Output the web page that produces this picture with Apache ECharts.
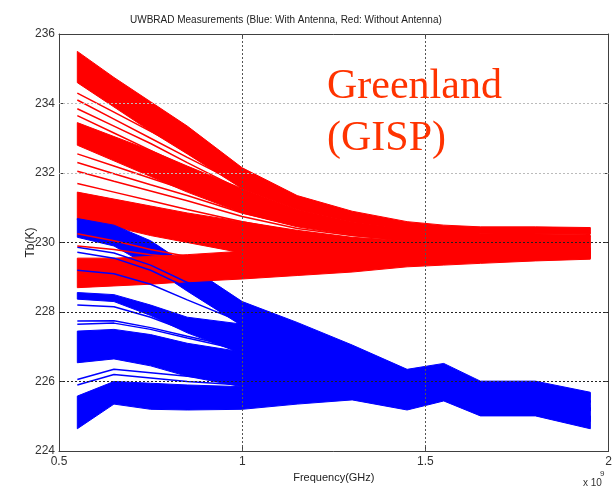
<!DOCTYPE html>
<html>
<head>
<meta charset="utf-8">
<script src="https://cdn.jsdelivr.net/npm/echarts@6/dist/echarts.min.js"></script>
<style>
  html, body { margin: 0; padding: 0; background: #fff; }
  #chart { width: 615px; height: 489px; }
</style>
</head>
<body>
<div id="chart"></div>
<script>
// frequencies (x1e9 Hz)
const freq = [0.55, 0.65, 0.75, 0.85, 1.0, 1.15, 1.3, 1.45, 1.55, 1.65, 1.8, 1.95];
const xTicks = [0.5, 1, 1.5, 2];
const yTicks = [224, 226, 228, 230, 232, 234, 236];

// red (without antenna) dense bands: upper / lower edges
const redBand1Up = [235.5, 234.75, 234.05, 233.35, 232.15, 231.35, 230.9, 230.6, 230.5, 230.45, 230.45, 230.43];
const redBand1Lo = [234.6, 233.9, 233.2, 232.55, 231.55, 230.95, 230.6, 230.38, 230.3, 230.27, 230.25, 230.25];
const redBand2Up = [233.45, 233.05, 232.65, 232.2, 231.55, 230.95, 230.6, 230.38, 230.3, 230.25, 230.22, 230.2];
const redBand2Lo = [232.8, 232.35, 231.9, 231.45, 230.85, 230.45, 230.2, 230.05, 230.0, 229.98, 229.97, 229.96];
const redBand3Up = [231.45, 231.25, 231.05, 230.85, 230.6, 230.35, 230.15, 230.05, 230.0, 229.98, 229.97, 229.96];
const redBand3Lo = [230.65, 230.45, 230.2, 230.0, 229.7, 229.6, 229.55, 229.52, 229.52, 229.52, 229.53, 229.55];
const redBand4Up = [229.55, 229.55, 229.6, 229.65, 229.75, 229.8, 229.82, 229.84, 229.85, 229.85, 229.85, 229.85];
const redBand4Lo = [228.7, 228.75, 228.8, 228.87, 228.95, 229.05, 229.15, 229.3, 229.35, 229.4, 229.47, 229.52];

// red single traces
const redA = [234.3, 233.75, 233.2, 232.65, 231.8, 231.1, 230.7, 230.45, 230.35, 230.3, 230.28, 230.27];
const redB = [234.1, 233.55, 233.0, 232.45, 231.65, 231.0, 230.62, 230.4, 230.3, 230.27, 230.25, 230.24];
const redC = [233.85, 233.35, 232.85, 232.3, 231.5, 230.9, 230.55, 230.35, 230.27, 230.24, 230.22, 230.2];
const redD = [233.65, 233.15, 232.65, 232.15, 231.4, 230.82, 230.5, 230.32, 230.25, 230.22, 230.2, 230.18];
const redE = [232.55, 232.2, 231.85, 231.5, 230.95, 230.55, 230.3, 230.15, 230.1, 230.07, 230.05, 230.04];
const redF = [232.3, 231.98, 231.66, 231.35, 230.85, 230.48, 230.25, 230.1, 230.05, 230.02, 230.0, 229.99];
const redG = [232.05, 231.76, 231.48, 231.2, 230.75, 230.4, 230.2, 230.06, 230.01, 229.98, 229.96, 229.95];
const redH = [231.7, 231.45, 231.2, 230.95, 230.6, 230.3, 230.12, 230.0, 229.96, 229.93, 229.91, 229.9];
const redI = [230.25, 230.05, 229.8, 229.6, 229.6, 229.62, 229.65, 229.68, 229.7, 229.7, 229.72, 229.72];
const redJ = [229.9, 229.8, 229.65, 229.55, 229.55, 229.57, 229.6, 229.63, 229.65, 229.66, 229.68, 229.7];

// blue (with antenna) dense bands
const blueBand1Up = [230.69, 230.5, 230.05, 229.35, 228.3, 227.7, 227.05, 226.35, 226.52, 226.01, 226.01, 225.69];
const blueBand1Lo = [230.15, 229.9, 229.3, 228.6, 227.6, 227.05, 226.55, 225.95, 226.15, 225.7, 225.7, 225.4];
const blueBand2Up = [228.56, 228.5, 228.2, 227.85, 227.65, 227.1, 226.6, 226.05, 226.2, 225.75, 225.75, 225.45];
const blueBand2Lo = [228.37, 228.3, 227.9, 227.4, 226.8, 226.45, 226.15, 225.7, 225.9, 225.45, 225.45, 225.15];
const blueBand3Up = [227.45, 227.5, 227.35, 227.1, 226.85, 226.6, 226.3, 225.8, 226.0, 225.55, 225.55, 225.25];
const blueBand3Lo = [226.54, 226.65, 226.45, 226.15, 225.85, 225.75, 225.7, 225.4, 225.6, 225.2, 225.2, 224.85];
const blueBand4Up = [225.58, 226.0, 225.95, 225.9, 225.85, 225.85, 225.85, 225.55, 225.75, 225.3, 225.3, 225.0];
const blueBand4Lo = [224.64, 225.35, 225.2, 225.18, 225.2, 225.35, 225.47, 225.18, 225.44, 225.01, 225.01, 224.64];

// blue single traces
const blueA = [229.86, 229.7, 229.35, 228.85, 228.1, 227.55, 226.95, 226.3, 226.45, 225.95, 225.95, 225.65];
const blueB = [229.72, 229.55, 229.2, 228.7, 227.95, 227.45, 226.85, 226.25, 226.4, 225.9, 225.9, 225.6];
const blueC = [229.2, 229.1, 228.8, 228.35, 227.7, 227.2, 226.7, 226.15, 226.3, 225.85, 225.85, 225.55];
const blueD = [228.2, 228.15, 227.85, 227.45, 226.95, 226.6, 226.3, 225.8, 225.95, 225.5, 225.5, 225.2];
const blueE = [227.74, 227.75, 227.55, 227.3, 226.95, 226.65, 226.4, 225.9, 226.05, 225.6, 225.6, 225.3];
const blueF = [227.65, 227.68, 227.5, 227.25, 226.9, 226.6, 226.35, 225.85, 226.0, 225.55, 225.55, 225.25];
const blueG = [226.06, 226.35, 226.25, 226.15, 226.0, 225.95, 225.9, 225.55, 225.75, 225.3, 225.3, 225.0];
const blueH = [225.9, 226.2, 226.1, 226.0, 225.9, 225.85, 225.85, 225.5, 225.7, 225.25, 225.25, 224.95];

const RED = '#ff0000';
const BLUE = '#0000ff';

// filled band between two traces, drawn through the axes with api.coord
function band(upper, lower, color) {
  return {
    type: 'custom', silent: true, clip: true,
    encode: { x: 0, y: 1 },
    data: [[freq[0], lower[0]]],
    renderItem: function (params, api) {
      const pts = [];
      for (let i = 0; i < freq.length; i++) pts.push(api.coord([freq[i], upper[i]]));
      for (let i = freq.length - 1; i >= 0; i--) pts.push(api.coord([freq[i], lower[i]]));
      return {
        type: 'polygon',
        shape: { points: pts },
        style: { fill: color, stroke: color, lineWidth: 1 }
      };
    }
  };
}

function trace(vals, color) {
  return {
    type: 'line', symbol: 'none', silent: true,
    data: freq.map((f, i) => [f, vals[i]]),
    lineStyle: { color: color, width: 1.5 }
  };
}

const series = [
  // grid lines (drawn under data)
  {
    type: 'line', data: [], z: 1, silent: true,
    markLine: {
      symbol: 'none', silent: true, label: { show: false },
      data: [
        { yAxis: 226, lineStyle: { color: '#222', type: [2, 2], width: 1 } },
        { yAxis: 228, lineStyle: { color: '#222', type: [2, 2], width: 1 } },
        { yAxis: 230, lineStyle: { color: '#222', type: [2, 2], width: 1 } },
        { yAxis: 232, lineStyle: { color: '#bbb', type: [2, 2], width: 1 } },
        { yAxis: 234, lineStyle: { color: '#bbb', type: [2, 2], width: 1 } },
        { xAxis: 1, lineStyle: { color: '#555', type: [2, 2], width: 1 } },
        { xAxis: 1.5, lineStyle: { color: '#555', type: [2, 2], width: 1 } }
      ]
    }
  },
  band(redBand1Up, redBand1Lo, RED),
  band(redBand2Up, redBand2Lo, RED),
  band(redBand3Up, redBand3Lo, RED),
  trace(redA, RED), trace(redB, RED), trace(redC, RED), trace(redD, RED),
  trace(redE, RED), trace(redF, RED), trace(redG, RED), trace(redH, RED),
  band(blueBand1Up, blueBand1Lo, BLUE),
  band(blueBand2Up, blueBand2Lo, BLUE),
  band(blueBand3Up, blueBand3Lo, BLUE),
  band(blueBand4Up, blueBand4Lo, BLUE),
  trace(blueA, BLUE), trace(blueB, BLUE), trace(blueC, BLUE), trace(blueD, BLUE),
  trace(blueE, BLUE), trace(blueF, BLUE), trace(blueG, BLUE), trace(blueH, BLUE),
  band(redBand4Up, redBand4Lo, RED),
  trace(redI, RED), trace(redJ, RED)
];

const chart = echarts.init(document.getElementById('chart'));
chart.setOption({
  animation: false,
  backgroundColor: '#fff',
  title: {
    text: 'UWBRAD Measurements (Blue: With Antenna, Red: Without Antenna)',
    left: 125,
    top: 10,
    textStyle: { fontFamily: 'Liberation Sans', fontSize: 10, fontWeight: 'normal', color: '#222' }
  },
  grid: { left: 59, right: 6, top: 34, bottom: 38, containLabel: false },
  xAxis: [
    {
      type: 'value', min: xTicks[0], max: xTicks[xTicks.length - 1], interval: 0.5,
      name: 'Frequency(GHz)', nameLocation: 'middle', nameGap: 21,
      nameTextStyle: { fontFamily: 'Liberation Sans', fontSize: 11, color: '#222' },
      axisLine: { lineStyle: { color: '#404040', width: 1 } },
      axisTick: { inside: true, length: 4, lineStyle: { color: '#404040' } },
      axisLabel: { fontFamily: 'Liberation Sans', fontSize: 12, color: '#333', margin: 5 },
      splitLine: { show: false }
    },
    {
      type: 'value', position: 'top', min: xTicks[0], max: xTicks[xTicks.length - 1], interval: 0.5,
      axisLine: { onZero: false, lineStyle: { color: '#404040', width: 1 } },
      axisTick: { inside: true, length: 4, lineStyle: { color: '#404040' } },
      axisLabel: { show: false },
      splitLine: { show: false }
    }
  ],
  yAxis: [
    {
      type: 'value', min: yTicks[0], max: yTicks[yTicks.length - 1], interval: 2,
      name: 'Tb(K)', nameLocation: 'middle', nameGap: 22, nameRotate: 90,
      nameMoveOverlap: false,
      nameTextStyle: { fontFamily: 'Liberation Sans', fontSize: 12, color: '#222' },
      axisLine: { show: true, lineStyle: { color: '#404040', width: 1 } },
      axisTick: { show: true, inside: true, length: 4, lineStyle: { color: '#404040' } },
      axisLabel: { fontFamily: 'Liberation Sans', fontSize: 12, color: '#333', margin: 4 },
      splitLine: { show: false }
    },
    {
      type: 'value', position: 'right', min: yTicks[0], max: yTicks[yTicks.length - 1], interval: 2,
      axisLine: { show: true, onZero: false, lineStyle: { color: '#404040', width: 1 } },
      axisTick: { show: true, inside: true, length: 4, lineStyle: { color: '#404040' } },
      axisLabel: { show: false },
      splitLine: { show: false }
    }
  ],
  graphic: [
    {
      type: 'text', left: 327, top: 61, z: 100,
      style: {
        text: 'Greenland\n(GISP)',
        font: '42px "Liberation Serif"',
        lineHeight: 52,
        fill: '#ff3300'
      }
    },
    {
      type: 'text', left: 583, top: 478,
      style: { text: 'x 10', font: '10px "Liberation Sans"', fill: '#333' }
    },
    {
      type: 'text', left: 600, top: 470,
      style: { text: '9', font: '8px "Liberation Sans"', fill: '#333' }
    }
  ],
  series: series
});
</script>
</body>
</html>
